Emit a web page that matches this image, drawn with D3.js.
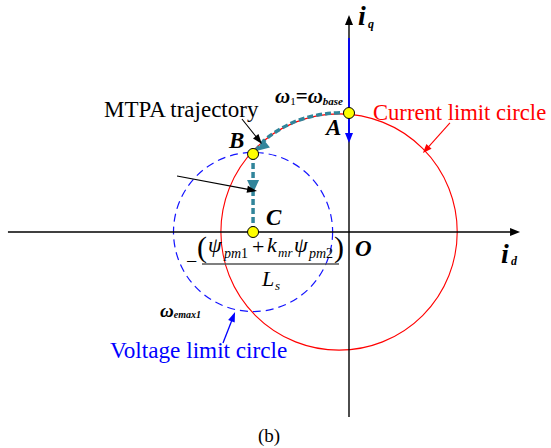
<!DOCTYPE html>
<html><head><meta charset="utf-8">
<script src="https://cdn.jsdelivr.net/npm/d3@7"></script>
<style>html,body{margin:0;padding:0;background:#fff;} svg{display:block;} text{font-family:"Liberation Serif","Times New Roman","DejaVu Serif",serif;}</style>
</head><body>
<script>
// ---- data (per-unit current plane: id horizontal, iq vertical) ----
const idAxis = [-2.915, 1.462];
const iqAxis = [-1.581, 1.855];
const currentLimit = [-0.085, 0, 1.01];   // centre id, centre iq, radius
const voltageLimit = [-0.82, 0, 0.68];    // centre id, centre iq, radius
const pointNames = ["A", "B", "C"];
const pointId = [0, -0.82, -0.82];
const pointIq = [1.017, 0.667, 0];
const mtpaId = [0, -0.15, -0.3, -0.45, -0.6, -0.72, -0.82];
const mtpaIq = [1.022, 1.015, 0.993, 0.948, 0.872, 0.785, 0.667];
const fwId = [-0.82, -0.82];
const fwIq = [0.667, 0];
const blueIqLine = [1.658, 0.761];

const W = 551, H = 448;
const TEAL = "#31859b";
const svg = d3.select("body").append("svg").attr("width", W).attr("height", H);
const x = d3.scaleLinear().domain([-1, 1]).range([232, 466]);
const y = d3.scaleLinear().domain([-1, 1]).range([349, 115]);

function arrowHead(x0, y0, x1, y1, len, wid, color) {
  const a = Math.atan2(y1 - y0, x1 - x0);
  const bx = x1 - len * Math.cos(a), by = y1 - len * Math.sin(a);
  const px = -Math.sin(a) * wid / 2, py = Math.cos(a) * wid / 2;
  svg.append("path")
    .attr("d", `M${x1},${y1}L${bx + px},${by + py}L${bx - px},${by - py}Z`)
    .attr("fill", color).attr("stroke", "none");
}
function arrow(p, color, len, wid, sw) {
  const [a, b, c, d] = [x(p[0]), y(p[1]), x(p[2]), y(p[3])];
  const ang = Math.atan2(d - b, c - a);
  svg.append("line").attr("x1", a).attr("y1", b)
    .attr("x2", c - (len - 1) * Math.cos(ang)).attr("y2", d - (len - 1) * Math.sin(ang))
    .attr("stroke", color).attr("stroke-width", sw);
  arrowHead(a, b, c, d, len, wid, color);
}

// circles
const rs = v => x(v) - x(0);
svg.append("circle").attr("cx", x(voltageLimit[0])).attr("cy", y(voltageLimit[1]))
  .attr("r", rs(voltageLimit[2])).attr("fill", "none").attr("stroke", "#1414ff")
  .attr("stroke-width", 1.2).attr("stroke-dasharray", "8,5");
svg.append("circle").attr("cx", x(currentLimit[0])).attr("cy", y(currentLimit[1]))
  .attr("r", rs(currentLimit[2])).attr("fill", "none").attr("stroke", "#ff0000")
  .attr("stroke-width", 1.1);

// axes
svg.append("line").attr("x1", x(idAxis[0])).attr("y1", y(0)).attr("x2", x(idAxis[1]) - 8).attr("y2", y(0))
  .attr("stroke", "#000").attr("stroke-width", 1.4);
arrowHead(x(idAxis[0]), y(0), x(idAxis[1]), y(0), 10, 8, "#000");
svg.append("line").attr("x1", x(0)).attr("y1", y(iqAxis[0])).attr("x2", x(0)).attr("y2", y(iqAxis[1]) + 8)
  .attr("stroke", "#000").attr("stroke-width", 1.4);
arrowHead(x(0), y(iqAxis[0]), x(0), y(iqAxis[1]), 10, 8, "#000");

// blue line on iq axis
svg.append("line").attr("x1", x(0)).attr("y1", y(blueIqLine[0])).attr("x2", x(0)).attr("y2", y(blueIqLine[1]) - 8)
  .attr("stroke", "#0000ff").attr("stroke-width", 1.8);
arrowHead(x(0), y(blueIqLine[0]), x(0), y(blueIqLine[1]), 10, 8, "#0000ff");

// MTPA trajectory (teal dashed)
const mtpa = mtpaId.map((d, i) => [x(d), y(mtpaIq[i])]);
svg.append("path").attr("d", d3.line().curve(d3.curveCatmullRom)(mtpa))
  .attr("fill", "none").attr("stroke", TEAL).attr("stroke-width", 3.5).attr("stroke-dasharray", "6,3");
svg.append("path").attr("d", d3.line()(fwId.map((d, i) => [x(d), y(fwIq[i])])))
  .attr("fill", "none").attr("stroke", TEAL).attr("stroke-width", 3.5).attr("stroke-dasharray", "6,3");
arrowHead(x(-0.68), y(0.78), x(-0.785), y(0.695), 12, 11, TEAL);
arrowHead(x(-0.82), y(0.5), x(-0.82), y(0.333), 13, 12, TEAL);

// annotation arrows
arrow([0.863, 0.932, 0.632, 0.675], "#ff0000", 9, 7, 1.1);
arrow([-0.915, 0.966, -0.744, 0.752], "#000", 10, 7, 1.1);
arrow([-1.47, 0.479, -0.786, 0.35], "#000", 10, 7, 1.1);
arrow([-1.077, -0.949, -0.974, -0.684], "#0000ff", 10, 7, 1.3);

// points
svg.selectAll("circle.pt").data(pointNames).enter().append("circle").attr("class", "pt")
  .attr("cx", (d, i) => x(pointId[i])).attr("cy", (d, i) => y(pointIq[i])).attr("r", 5.5)
  .attr("fill", "#ffff00").attr("stroke", "#000").attr("stroke-width", 1);

// text helper
function txt(px, py, s, size, opts = {}) {
  return svg.append("text").attr("x", px).attr("y", py).text(s)
    .style("font-size", size + "px")
    .style("font-style", opts.italic ? "italic" : "normal")
    .style("font-weight", opts.bold ? "bold" : "normal")
    .attr("fill", opts.color || "#000");
}
// axis labels
txt(358, 25, "i", 28, {italic: true, bold: true});
txt(368, 28, "q", 12, {italic: true, bold: true});
txt(501, 263, "i", 28, {italic: true, bold: true});
txt(511, 265, "d", 12, {italic: true, bold: true});
// point labels
const lbl = [[326, 135], [229, 148], [266, 225]];
pointNames.forEach((n, i) => txt(lbl[i][0], lbl[i][1], n, 23, {italic: true, bold: true}));
txt(355, 256, "O", 23, {italic: true, bold: true});

// omega labels
const w1 = txt(275, 103, "", 21, {italic: true, bold: true});
w1.append("tspan").text("ω");
w1.append("tspan").text("1").style("font-size", "11px").style("font-weight", "normal").style("font-style", "normal").attr("dy", 2);
w1.append("tspan").text("=").style("font-style", "normal").attr("dy", -2);
w1.append("tspan").text("ω");
w1.append("tspan").text("base").style("font-size", "11px").attr("dy", 2);

const w2 = txt(160, 317, "", 19, {italic: true, bold: true});
w2.append("tspan").text("ω");
w2.append("tspan").text("emax1").style("font-size", "10px").attr("dy", 1);

// texts
txt(373, 120, "Current limit circle", 22.6, {color: "#ff0000"});
txt(104, 117, "MTPA trajectory", 23);
txt(110, 358, "Voltage limit circle", 23.2, {color: "#0000ff"});
txt(258, 442, "(b)", 19);

// fraction  -(psi_pm1 + k_mr psi_pm2)/L_s
txt(186, 268, "−", 20);
txt(197, 257, "(", 30);
txt(208, 252, "ψ", 22, {italic: true});
txt(224, 258, "pm", 14, {italic: true});
txt(241, 258, "1", 14);
txt(252, 254, "+", 22);
txt(267, 252, "k", 22, {italic: true});
txt(278, 257, "mr", 13, {italic: true});
txt(294, 252, "ψ", 22, {italic: true});
txt(309, 258, "pm", 14, {italic: true});
txt(326, 258, "2", 14);
txt(334, 257, ")", 30);
svg.append("line").attr("x1", 202).attr("x2", 339).attr("y1", 264).attr("y2", 264)
  .attr("stroke", "#555").attr("stroke-width", 1.6);
txt(262, 286, "L", 22, {italic: true});
txt(275, 290, "s", 13, {italic: true});
</script>
</body></html>
